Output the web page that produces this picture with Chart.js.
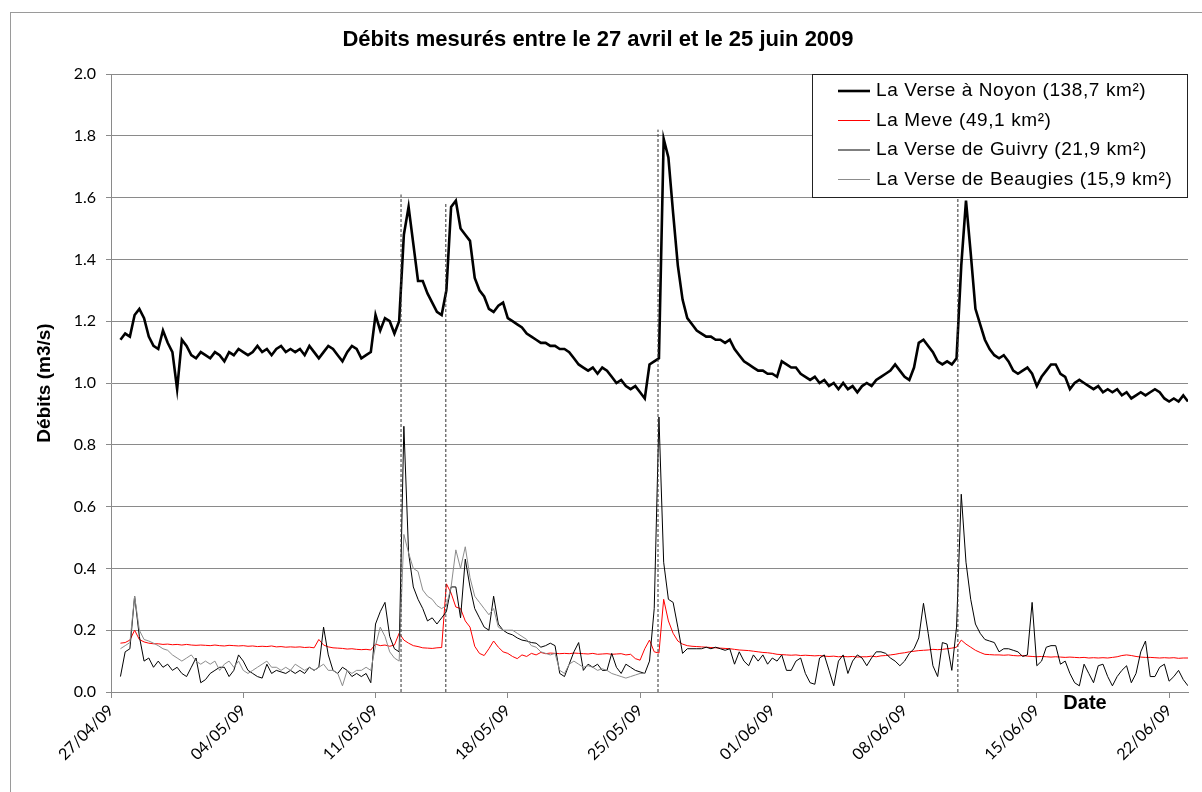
<!DOCTYPE html>
<html>
<head>
<meta charset="utf-8">
<script src="https://cdn.jsdelivr.net/npm/chart.js@4.4.0/dist/chart.umd.min.js"></script>
<style>
  html, body { margin: 0; padding: 0; background: #fff; }
  canvas { display: block; }
</style>
</head>
<body>
<canvas id="debits" width="1202" height="792" style="width:1202px;height:792px"></canvas>
<script>
// axis labels, one every 7 days from 27/04/09
const dateLabels = ['27/04/09', '04/05/09', '11/05/09', '18/05/09', '25/05/09',
                    '01/06/09', '08/06/09', '15/06/09', '22/06/09'];
const stepHours = 6; // one value every 6 h, starting 27/04 00:00

// La Verse à Noyon (one row per day: 0h, 6h, 12h, 18h)
const noyon = [
  null, null, 1.14, 1.16,
  1.15, 1.22, 1.24, 1.21,
  1.15, 1.12, 1.11, 1.17,
  1.13, 1.10, 0.98, 1.14,
  1.12, 1.09, 1.08, 1.10,
  1.09, 1.08, 1.10, 1.09,
  1.07, 1.10, 1.09, 1.11,
  1.10, 1.09, 1.10, 1.12,
  1.10, 1.11, 1.09, 1.11,
  1.12, 1.10, 1.11, 1.10,
  1.11, 1.09, 1.12, 1.10,
  1.08, 1.10, 1.12, 1.11,
  1.09, 1.07, 1.10, 1.12,
  1.11, 1.08, 1.09, 1.10,
  1.22, 1.17, 1.21, 1.20,
  1.16, 1.20, 1.48, 1.57,
  1.45, 1.33, 1.33, 1.29,
  1.26, 1.23, 1.22, 1.30,
  1.57, 1.59, 1.50, 1.48,
  1.46, 1.34, 1.30, 1.28,
  1.24, 1.23, 1.25, 1.26,
  1.21, 1.20, 1.19, 1.18,
  1.16, 1.15, 1.14, 1.13,
  1.13, 1.12, 1.12, 1.11,
  1.11, 1.10, 1.08, 1.06,
  1.05, 1.04, 1.05, 1.03,
  1.05, 1.04, 1.02, 1.00,
  1.01, 0.99, 0.98, 0.99,
  0.97, 0.95, 1.06, 1.07,
  1.08, 1.79, 1.73, 1.55,
  1.38, 1.27, 1.21, 1.19,
  1.17, 1.16, 1.15, 1.15,
  1.14, 1.14, 1.13, 1.14,
  1.11, 1.09, 1.07, 1.06,
  1.05, 1.04, 1.04, 1.03,
  1.03, 1.02, 1.07, 1.06,
  1.05, 1.05, 1.03, 1.02,
  1.01, 1.02, 1.00, 1.01,
  0.99, 1.00, 0.98, 1.00,
  0.98, 0.99, 0.97, 0.99,
  1.00, 0.99, 1.01, 1.02,
  1.03, 1.04, 1.06, 1.04,
  1.02, 1.01, 1.05, 1.13,
  1.14, 1.12, 1.10, 1.07,
  1.06, 1.07, 1.06, 1.08,
  1.38, 1.59, 1.42, 1.24,
  1.19, 1.14, 1.11, 1.09,
  1.08, 1.09, 1.07, 1.04,
  1.03, 1.04, 1.05, 1.03,
  0.99, 1.02, 1.04, 1.06,
  1.06, 1.03, 1.02, 0.98,
  1.00, 1.01, 1.00, 0.99,
  0.98, 0.99, 0.97, 0.98,
  0.97, 0.98, 0.96, 0.97,
  0.95, 0.96, 0.97, 0.96,
  0.97, 0.98, 0.97, 0.95,
  0.94, 0.95, 0.94, 0.96,
  0.94
];

// La Meve
const meve = [
  null, null, 0.158, 0.160,
  0.168, 0.200, 0.170, 0.162,
  0.158, 0.156, 0.156, 0.154,
  0.155, 0.153, 0.154, 0.152,
  0.154, 0.152, 0.151, 0.152,
  0.151, 0.150, 0.152, 0.150,
  0.149, 0.151, 0.150, 0.149,
  0.150, 0.148, 0.149, 0.147,
  0.148, 0.147, 0.149, 0.146,
  0.147, 0.145, 0.146, 0.145,
  0.146, 0.144, 0.145, 0.143,
  0.170, 0.152, 0.146, 0.143,
  0.142, 0.141, 0.139, 0.140,
  0.138, 0.137, 0.138, 0.136,
  0.155, 0.150, 0.152, 0.148,
  0.152, 0.190, 0.168, 0.158,
  0.150, 0.147, 0.143, 0.142,
  0.141, 0.143, 0.144, 0.350,
  0.320, 0.275, 0.270, 0.230,
  0.210, 0.148, 0.125, 0.118,
  0.140, 0.165, 0.145, 0.130,
  0.125, 0.115, 0.108, 0.120,
  0.115, 0.125, 0.120, 0.128,
  0.124, 0.126, 0.125, 0.124,
  0.125, 0.124, 0.126, 0.125,
  0.124, 0.123, 0.125, 0.122,
  0.123, 0.124, 0.122, 0.123,
  0.124, 0.120, 0.122, 0.108,
  0.103, 0.140, 0.168, 0.130,
  0.126, 0.300, 0.230, 0.190,
  0.165, 0.155, 0.150, 0.148,
  0.147, 0.146, 0.145, 0.144,
  0.143, 0.142, 0.141, 0.140,
  0.138, 0.136, 0.135, 0.134,
  0.132, 0.130, 0.128, 0.127,
  0.125, 0.122, 0.121, 0.120,
  0.119, 0.120, 0.118, 0.119,
  0.118, 0.117, 0.118, 0.116,
  0.115, 0.116, 0.114, 0.115,
  0.114, 0.115, 0.113, 0.114,
  0.114, 0.116, 0.114, 0.117,
  0.118, 0.120, 0.122, 0.125,
  0.127, 0.130, 0.132, 0.134,
  0.135, 0.136, 0.138, 0.137,
  0.138, 0.140, 0.142, 0.145,
  0.168, 0.155, 0.145, 0.135,
  0.128, 0.122, 0.121, 0.120,
  0.120, 0.119, 0.120, 0.118,
  0.117, 0.118, 0.116, 0.115,
  0.114, 0.115, 0.114, 0.113,
  0.114, 0.113, 0.112, 0.113,
  0.112, 0.111, 0.112, 0.110,
  0.111, 0.110, 0.111, 0.110,
  0.112, 0.114, 0.118, 0.120,
  0.118, 0.115, 0.113, 0.112,
  0.112, 0.111, 0.110, 0.111,
  0.110, 0.111, 0.109, 0.110,
  0.110
];

// La Verse de Guivry
const guivry = [
  null, null, 0.05, 0.13,
  0.14, 0.31, 0.18, 0.10,
  0.11, 0.08, 0.10, 0.08,
  0.09, 0.07, 0.08, 0.06,
  0.05, 0.08, 0.11, 0.03,
  0.04, 0.06, 0.07, 0.08,
  0.08, 0.05, 0.07, 0.12,
  0.10, 0.07, 0.06, 0.05,
  0.045, 0.09, 0.06, 0.07,
  0.065, 0.06, 0.07, 0.06,
  0.07, 0.06, 0.08, 0.07,
  0.08, 0.21, 0.12, 0.07,
  0.06, 0.08, 0.07, 0.05,
  0.06, 0.05, 0.06, 0.03,
  0.22, 0.26, 0.29, 0.18,
  0.14, 0.13, 0.86, 0.45,
  0.34, 0.30, 0.27, 0.23,
  0.24, 0.22, 0.24, 0.26,
  0.34, 0.34, 0.24, 0.43,
  0.34, 0.27, 0.24, 0.21,
  0.20, 0.31, 0.22, 0.20,
  0.19, 0.185, 0.175, 0.168,
  0.165, 0.16, 0.158, 0.145,
  0.15, 0.158, 0.15, 0.06,
  0.05, 0.09, 0.13, 0.16,
  0.07, 0.09, 0.08, 0.09,
  0.07, 0.07, 0.125, 0.08,
  0.06, 0.09, 0.08, 0.07,
  0.065, 0.06, 0.10, 0.27,
  0.89, 0.42, 0.30, 0.29,
  0.21, 0.125, 0.14, 0.14,
  0.14, 0.14, 0.145, 0.14,
  0.145, 0.14, 0.135, 0.14,
  0.09, 0.13, 0.10, 0.085,
  0.12, 0.10, 0.12, 0.09,
  0.11, 0.10, 0.12, 0.07,
  0.07, 0.10, 0.11, 0.06,
  0.03, 0.025, 0.11, 0.12,
  0.07, 0.02, 0.10, 0.12,
  0.06, 0.10, 0.12, 0.11,
  0.085, 0.11, 0.13, 0.13,
  0.125, 0.11, 0.10, 0.085,
  0.10, 0.125, 0.14, 0.175,
  0.287, 0.19, 0.085, 0.05,
  0.16, 0.155, 0.07, 0.21,
  0.64, 0.42, 0.30, 0.22,
  0.19, 0.17, 0.165, 0.16,
  0.13, 0.14, 0.14, 0.135,
  0.13, 0.115, 0.12, 0.29,
  0.085, 0.10, 0.145, 0.15,
  0.15, 0.09, 0.10, 0.06,
  0.03, 0.02, 0.09, 0.06,
  0.03, 0.085, 0.09, 0.05,
  0.02, 0.05, 0.07, 0.085,
  0.03, 0.06, 0.13, 0.165,
  0.05, 0.05, 0.08, 0.09,
  0.035, 0.05, 0.07, 0.04,
  0.02
];

// La Verse de Beaugies (no record after 28/05 morning)
const beaugies = [
  null, null, 0.14, 0.15,
  0.16, 0.31, 0.20, 0.17,
  0.165, 0.158, 0.15, 0.14,
  0.135, 0.12, 0.11, 0.10,
  0.11, 0.12, 0.10, 0.09,
  0.10, 0.09, 0.10, 0.07,
  0.09, 0.10, 0.08, 0.10,
  0.07, 0.06, 0.07, 0.08,
  0.09, 0.10, 0.08, 0.08,
  0.07, 0.08, 0.07, 0.09,
  0.08, 0.07, 0.08, 0.07,
  0.08, 0.09, 0.07, 0.07,
  0.06, 0.02, 0.07, 0.06,
  0.07, 0.07, 0.08, 0.07,
  0.15, 0.21, 0.18, 0.13,
  0.11, 0.10, 0.51, 0.45,
  0.40, 0.39, 0.33, 0.31,
  0.30, 0.28, 0.27, 0.28,
  0.34, 0.46, 0.40, 0.47,
  0.37, 0.31, 0.29, 0.27,
  0.25, 0.27, 0.21, 0.20,
  0.20, 0.20, 0.19, 0.18,
  0.17, 0.15, 0.145, 0.13,
  0.125, 0.12, 0.125, 0.07,
  0.06, 0.09, 0.10, 0.09,
  0.08, 0.085, 0.08, 0.07,
  0.075, 0.07, 0.06, 0.055,
  0.05, 0.045, 0.05, 0.055,
  0.06, 0.06
];

// flood events marked with dashed lines (day since 27/04, top value)
const eventDays = [15.35, 17.72, 28.95, 44.82];
const eventTops = [1.61, 1.58, 1.82, 1.60];

function toPoints(values) {
  return values.map((v, i) => ({ x: i * stepHours / 24, y: v }));
}

function eventPoints() {
  const pts = [];
  eventDays.forEach((d, i) => {
    pts.push({ x: d, y: 0 }, { x: d, y: eventTops[i] }, { x: d, y: null });
  });
  return pts;
}

const tickFont = { family: "Lato, 'Open Sans', sans-serif", size: 16 };
const gridGrey = '#8a8a8a';

const decor = {
  id: 'decor',
  beforeDraw(chart) {
    const ctx = chart.ctx;
    ctx.save();
    ctx.fillStyle = '#fff';
    ctx.fillRect(0, 0, chart.width, chart.height);
    ctx.strokeStyle = '#9a9a9a';
    ctx.lineWidth = 1;
    ctx.strokeRect(10.5, 12.5, chart.width, chart.height);
    ctx.restore();
  },
  afterDraw(chart) {
    const ctx = chart.ctx;
    const area = chart.chartArea;
    ctx.save();
    ctx.fillStyle = '#000';

    // title
    ctx.font = "bold 22px 'Liberation Sans', Arial, sans-serif";
    ctx.textAlign = 'center';
    ctx.textBaseline = 'middle';
    ctx.fillText('Débits mesurés entre le 27 avril et le 25 juin 2009', 598, 40);

    // y axis title
    ctx.save();
    ctx.translate(45, (area.top + area.bottom) / 2);
    ctx.rotate(-Math.PI / 2);
    ctx.font = "bold 19px 'Liberation Sans', Arial, sans-serif";
    ctx.fillText('Débits (m3/s)', 0, 0);
    ctx.restore();

    // x axis title
    ctx.font = "bold 20px 'Liberation Sans', Arial, sans-serif";
    ctx.fillText('Date', 1085, 703);

    // legend
    const lx = 812, ly = area.top, lw = area.right - lx, lh = 124;
    ctx.fillStyle = '#fff';
    ctx.fillRect(lx, ly, lw, lh);
    ctx.strokeStyle = '#222';
    ctx.lineWidth = 1;
    ctx.strokeRect(lx + 0.5, ly + 0.5, lw - 1, lh - 1);
    ctx.font = "19px 'Liberation Sans', Arial, sans-serif";
    ctx.letterSpacing = '0.6px';
    ctx.textAlign = 'left';
    const items = chart.data.datasets.filter(ds => ds.label);
    items.forEach((ds, i) => {
      const y = ly + 17 + i * 29.5;
      ctx.strokeStyle = ds.borderColor;
      ctx.lineWidth = ds.borderWidth;
      ctx.beginPath();
      ctx.moveTo(838, y);
      ctx.lineTo(870, y);
      ctx.stroke();
      ctx.fillStyle = '#000';
      ctx.fillText(ds.label, 876, y);
    });
    ctx.restore();
  }
};

function series(label, values, color, width, order) {
  return {
    label: label,
    data: toPoints(values),
    borderColor: color,
    borderWidth: width,
    pointRadius: 0,
    tension: 0,
    spanGaps: false,
    order: order
  };
}

new Chart(document.getElementById('debits'), {
  type: 'line',
  data: {
    datasets: [
      series('La Verse à Noyon (138,7 km²)', noyon, '#000000', 2.6, 4),
      series('La Meve (49,1 km²)', meve, '#ff0000', 1, 3),
      series('La Verse de Guivry (21,9 km²)', guivry, '#000000', 1, 2),
      series('La Verse de Beaugies (15,9 km²)', beaugies, '#8c8c8c', 1, 1),
      {
        label: '',
        data: eventPoints(),
        borderColor: '#333',
        borderWidth: 1,
        borderDash: [3, 2],
        pointRadius: 0,
        spanGaps: false,
        order: 0
      }
    ]
  },
  options: {
    responsive: false,
    animation: false,
    devicePixelRatio: 1,
    layout: { padding: { left: 41, top: 74, right: 14, bottom: 0 } },
    plugins: {
      legend: { display: false },
      title: { display: false },
      tooltip: { enabled: false }
    },
    scales: {
      x: {
        type: 'linear',
        min: 0,
        max: 57,
        afterBuildTicks: s => { s.ticks = s.ticks.filter(t => t.value % 7 === 0); },
        afterFit: s => { s.height = 100; },
        ticks: {
          stepSize: 7,
          includeBounds: false,
          autoSkip: false,
          minRotation: 45,
          maxRotation: 45,
          color: '#000',
          font: tickFont,
          callback: v => dateLabels[v / 7] || ''
        },
        grid: { drawOnChartArea: false, color: gridGrey, tickLength: 6 },
        border: { color: gridGrey }
      },
      y: {
        min: 0,
        max: 2,
        afterFit: s => { s.width = 70; },
        ticks: {
          stepSize: 0.2,
          color: '#000',
          font: tickFont,
          padding: 10,
          callback: v => v.toFixed(1)
        },
        grid: { color: gridGrey, tickLength: 5 },
        border: { color: gridGrey }
      }
    }
  },
  plugins: [decor]
});
</script>
</body>
</html>
